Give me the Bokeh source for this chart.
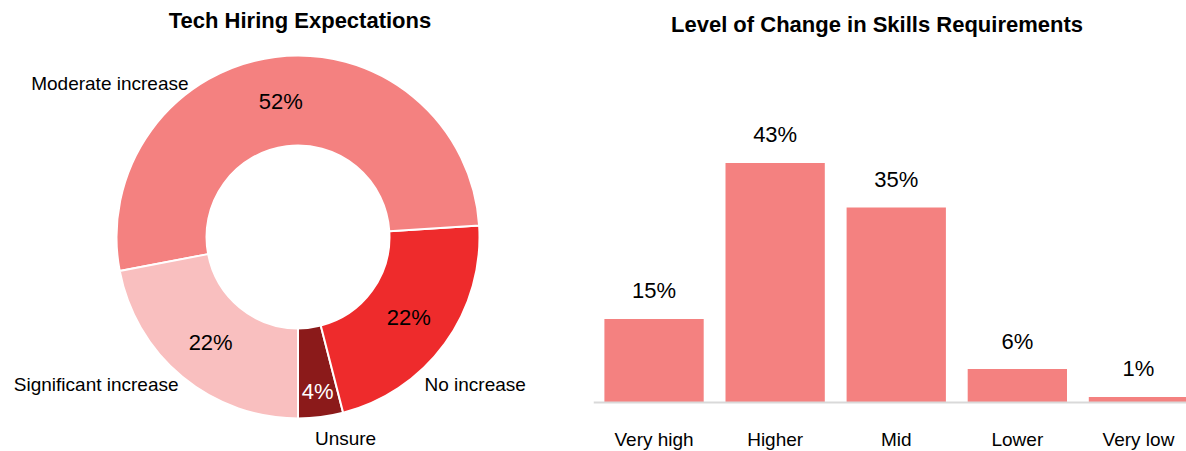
import math
from bokeh.plotting import figure
from bokeh.layouts import row
from bokeh.models import Range1d, Label, ColumnDataSource, Span
from bokeh.embed import file_html
from bokeh.resources import INLINE
from bokeh.core.properties import value

# ---------------- data ----------------
donut_title = "Tech Hiring Expectations"
donut_categories = ["Unsure", "No increase", "Moderate increase", "Significant increase"]
donut_values = [4, 22, 52, 22]
donut_colors = ["#8B1A1A", "#EE2B2C", "#F48180", "#F9BFBF"]

bar_title = "Level of Change in Skills Requirements"
bar_categories = ["Very high", "Higher", "Mid", "Lower", "Very low"]
bar_values = [15, 43, 35, 6, 1]
bar_color = "#F48180"

FONT = "Liberation Sans"
W, H = 593, 451

# ---------------- donut ----------------
scale = 181.5           # px per data unit (outer radius = 1)
cx, cy = 297.5, 236.5   # centre of the donut in px (from top-left)
p1 = figure(width=W, height=H, output_backend="svg", toolbar_location=None,
            x_range=Range1d(-cx / scale, (W - cx) / scale),
            y_range=Range1d(-(H - cy) / scale, cy / scale),
            min_border=0, x_axis_location=None, y_axis_location=None)
p1.grid.visible = False
p1.outline_line_color = None

total = sum(donut_values)
starts, ends, mids = [], [], []
a = -math.pi / 2
for v in donut_values:
    span = 2 * math.pi * v / total
    starts.append(a)
    ends.append(a + span)
    mids.append(a + span / 2)
    a += span

src = ColumnDataSource(dict(start=starts, end=ends, color=donut_colors,
                            cat=donut_categories, val=donut_values))
p1.annular_wedge(x=0, y=0, inner_radius=0.504, outer_radius=1.0,
                 start_angle="start", end_angle="end", direction="anticlock",
                 fill_color="color", line_color="white", line_width=2, source=src)

# percentage labels inside the ring
lx, ly, ltxt, lcol = [], [], [], []
for v, m in zip(donut_values, mids):
    r = 0.86 if v < 10 else 0.755
    lx.append(r * math.cos(m))
    ly.append(r * math.sin(m))
    ltxt.append(f"{v}%")
    lcol.append("white" if v < 10 else "black")
p1.text(x=lx, y=ly, text=ltxt, text_color=lcol, text_font=value(FONT),
        text_font_size="22px", text_align="center", text_baseline="middle")

# category labels outside the ring (offset in radius units, alignment)
outer_layout = {
    "Unsure": (0.262, -1.110, "center"),
    "No increase": (0.697, -0.813, "left"),
    "Moderate increase": (-0.603, 0.846, "right"),
    "Significant increase": (-0.658, -0.813, "right"),
}
for c in donut_categories:
    dx, dy, al = outer_layout[c]
    p1.add_layout(Label(x=dx, y=dy, text=c, text_font=FONT, text_font_size="19px",
                        text_color="black", text_align=al, text_baseline="middle"))

p1.add_layout(Label(x=(299.5 - cx) / scale, y=(cy - 19.5) / scale, text=donut_title,
                    text_font=FONT, text_font_size="22px", text_font_style="bold",
                    text_align="center", text_baseline="middle", text_color="black"))

# ---------------- bars ----------------
base_px = 402.0         # baseline position from top, px
px_per_pct = 5.57
unit_px = 121.1
x0 = -0.5
p2 = figure(width=W, height=H, output_backend="svg", toolbar_location=None,
            x_range=Range1d(x0, x0 + W / unit_px),
            y_range=Range1d(-(H - base_px) / px_per_pct, base_px / px_per_pct),
            min_border=0, x_axis_location=None, y_axis_location=None)
p2.grid.visible = False
p2.outline_line_color = None

xs = list(range(len(bar_categories)))
bsrc = ColumnDataSource(dict(x=xs, top=bar_values, cat=bar_categories,
                             lab=[f"{v}%" for v in bar_values]))
p2.vbar(x="x", top="top", bottom=0, width=0.82, fill_color=bar_color,
        line_color=None, source=bsrc)
p2.add_layout(Span(location=0, dimension="width", line_color="#D9D9D9", line_width=2))
p2.text(x="x", y="top", text="lab", source=bsrc, text_font=value(FONT),
        text_font_size="22px", text_align="center", text_baseline="middle",
        y_offset=-28, text_color="black")
# category (tick) labels below the baseline
p2.text(x="x", y=0, text="cat", source=bsrc, text_font=value(FONT),
        text_font_size="19px", text_align="center", text_baseline="middle",
        y_offset=37, text_color="black")

p2.add_layout(Label(x=x0 + (876.5 - W) / unit_px, y=(base_px - 24) / px_per_pct,
                    text=bar_title, text_font=FONT, text_font_size="22px",
                    text_font_style="bold", text_align="center",
                    text_baseline="middle", text_color="black"))

layout = row(p1, p2)
open("out.html", "w").write(file_html(layout, INLINE))
